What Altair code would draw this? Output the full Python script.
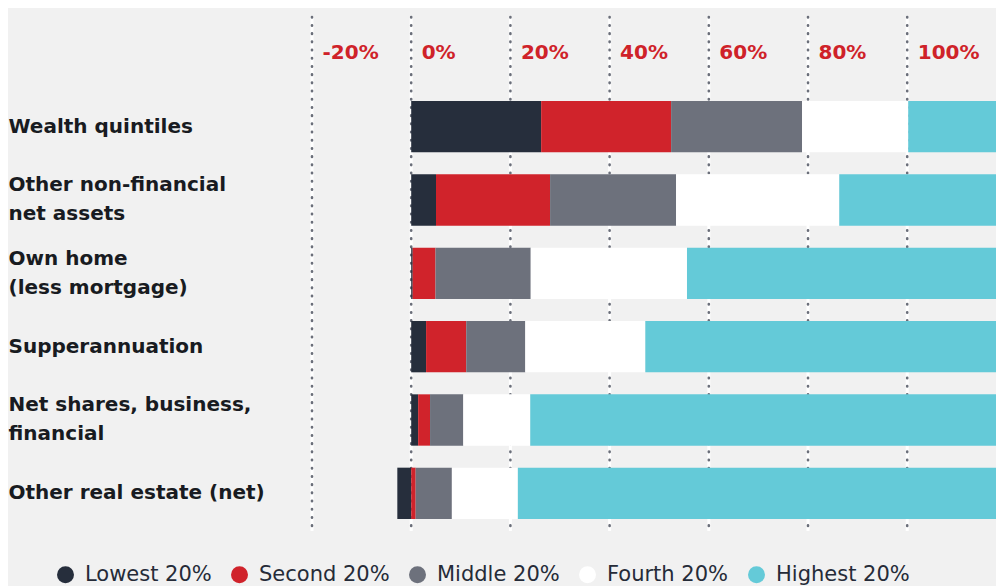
import altair as alt
import pandas as pd

categories = [
    "Wealth quintiles",
    "Other non-financial|net assets",
    "Own home|(less mortgage)",
    "Supperannuation",
    "Net shares, business,|financial",
    "Other real estate (net)",
]
quintiles = ["Lowest 20%", "Second 20%", "Middle 20%", "Fourth 20%", "Highest 20%"]
colors = ["#262e3c", "#d0232b", "#6d717c", "#ffffff", "#64cad8"]

lowest = [26.2, 5.0, 0.3, 3.0, 1.4, -2.8]
second = [26.2, 23.0, 4.6, 8.1, 2.4, 0.9]
middle = [26.4, 25.4, 19.2, 11.9, 6.7, 7.3]
fourth = [21.4, 32.9, 31.5, 24.2, 13.5, 13.3]
highest = [24.8, 38.7, 69.4, 77.8, 101.0, 103.5]

ticks = [-20, 0, 20, 40, 60, 80, 100]

FONT = "DejaVu Sans"

rows = []
series = [lowest, second, middle, fourth, highest]
for i, c in enumerate(categories):
    for j, q in enumerate(quintiles):
        rows.append({"category": c, "quintile": q, "order": j, "value": series[j][i]})
df = pd.DataFrame(rows)
tick_df = pd.DataFrame({"tick": ticks})

x_scale = alt.Scale(domain=[-20, 117.9], nice=False, zero=False)
y_scale = alt.Scale(domain=categories, paddingInner=0.3, paddingOuter=0.654, align=0.875)

x_axis = alt.Axis(
    orient="top", values=ticks, labelExpr="datum.value + '%'",
    labelAlign="left", labelBaseline="middle", labelPadding=-35, labelOffset=10,
    labelFontSize=20, labelFontWeight="bold", labelColor="#cf2229", labelFont=FONT,
    domain=False, ticks=False, tickSize=0, grid=False, title=None,
    labelFlush=False, labelOverlap=False,
)
y_axis = alt.Axis(
    orient="left", labelAlign="left", labelBaseline="middle", labelPadding=304,
    labelFontSize=20, labelFont=FONT, labelFontWeight="bold", labelColor="#181b21",
    labelLineHeight=29, labelExpr="split(datum.label, '|')", labelLimit=400,
    labelOffset={"condition": {"test": "indexof(datum.value, '|') >= 0", "value": -14.5}, "value": 0},
    domain=False, ticks=False, tickSize=0, title=None,
)

grid_white = alt.Chart(tick_df).mark_rule(color="white", strokeWidth=3).encode(
    x=alt.X("tick:Q", scale=x_scale, axis=x_axis)
)
grid_dots = alt.Chart(tick_df).mark_rule(
    color="#6b6f7a", strokeWidth=2.6, strokeDash=[0.5, 7.7], strokeCap="round"
).encode(x=alt.X("tick:Q", scale=x_scale, axis=x_axis))

bars = alt.Chart(df).mark_bar(clip=True).encode(
    x=alt.X("value:Q", scale=x_scale, axis=x_axis, stack="zero"),
    y=alt.Y("category:N", scale=y_scale, axis=y_axis, sort=categories),
    color=alt.Color(
        "quintile:N",
        scale=alt.Scale(domain=quintiles, range=colors),
        legend=alt.Legend(
            orient="none", legendX=-257, legendY=547, direction="horizontal",
            title=None, symbolType="circle", symbolSize=289, symbolStrokeWidth=0,
            symbolOpacity=1, labelFontSize=21, labelFont=FONT, labelColor="#252b38",
            labelOffset=9, columnPadding=17, padding=0, labelLimit=300,
        ),
    ),
    order=alt.Order("order:Q"),
)

chart = (
    alt.layer(grid_white, grid_dots, bars)
    .properties(width=684, height=514, padding={"left": 0, "top": 7, "right": 0, "bottom": 4})
    .configure(background="#f1f1f1")
    .configure_view(stroke=None)
)

chart.save("out.html", embed_options={"renderer": "svg", "actions": False})
